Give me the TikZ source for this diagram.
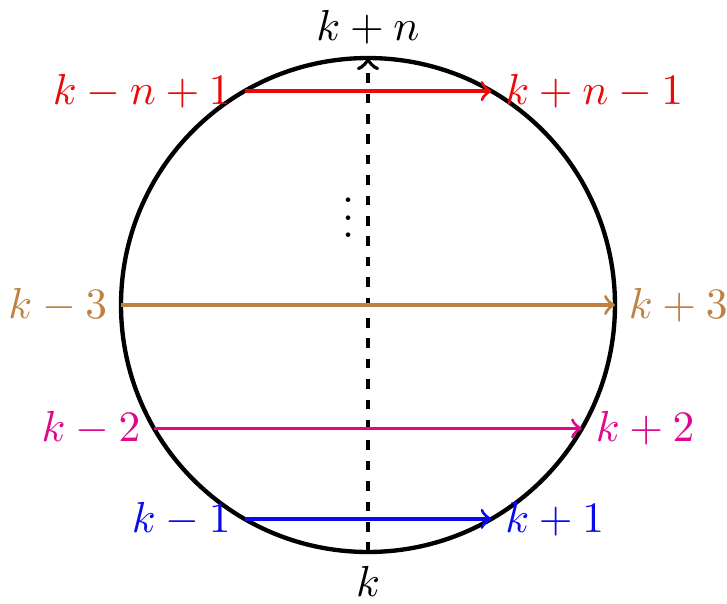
\documentclass[tikz,border=0pt]{standalone}
\usetikzlibrary{arrows}
\definecolor{cpink}{RGB}{222,8,140}
\definecolor{cbrown}{RGB}{191,128,64}
\definecolor{cred}{RGB}{235,10,10}
\definecolor{cblue}{RGB}{10,10,235}
\tikzset{
  ring/.style={line width=1pt},
  chord/.style={line width=0.75pt,->},
  axisline/.style={line width=0.9pt,->,dash pattern=on 2.2pt off 2.5pt},
  lbl/.style={inner sep=3.0pt}
}
\begin{document}
\begin{tikzpicture}
\useasboundingbox (-2.98,-2.421) rectangle (2.907,2.47);
\def\R{2}
\draw[ring] (0,0) circle (\R);
\coordinate (c) at (0,0);
\coordinate (top) at (90:\R);
\coordinate (bot) at (-90:\R);
\coordinate (r1) at (120:\R); \coordinate (r2) at (60:\R);
\coordinate (b1) at (180:\R); \coordinate (b2) at (0:\R);
\coordinate (m1) at (210:\R); \coordinate (m2) at (-30:\R);
\coordinate (u1) at (240:\R); \coordinate (u2) at (-60:\R);
\draw[axisline] (bot) -- (top);
\draw[chord,cred] (r1) -- (r2);
\draw[chord,cbrown] (b1) -- (b2);
\draw[chord,cpink] (m1) -- (m2);
\draw[chord,cblue] (u1) -- (u2);
\node[lbl,anchor=south] (ltop) at (top) {$k+n$};
\node[lbl,anchor=north] (lbot) at (bot) {$k$};
\node[lbl,anchor=east,cred] (lr1) at (r1) {$k-n+1$};
\node[lbl,anchor=west,cred] (lr2) at (r2) {$k+n-1$};
\node[lbl,anchor=east,cbrown] (lb1) at (b1) {$k-3$};
\node[lbl,anchor=west,cbrown] (lb2) at (b2) {$k+3$};
\node[lbl,anchor=east,cpink] (lm1) at (m1) {$k-2$};
\node[lbl,anchor=west,cpink] (lm2) at (m2) {$k+2$};
\node[lbl,anchor=east,cblue] (lu1) at (u1) {$k-1$};
\node[lbl,anchor=west,cblue] (lu2) at (u2) {$k+1$};
\node (dots) at (-0.16,0.81) {$\vdots$};
\end{tikzpicture}
\end{document}
